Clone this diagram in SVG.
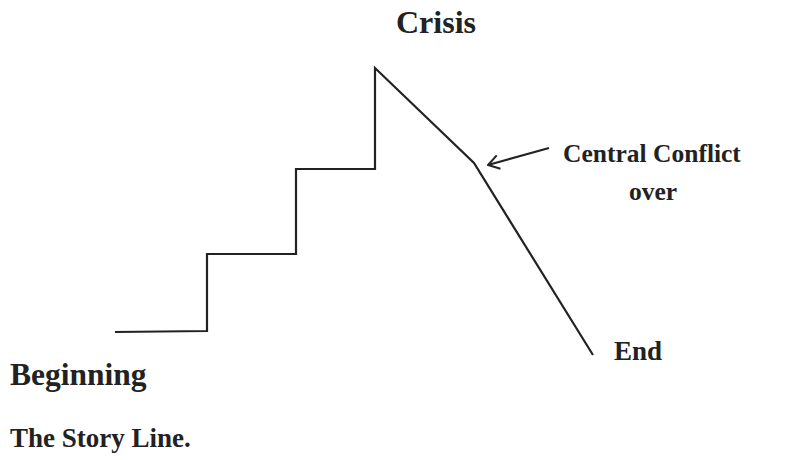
<svg xmlns="http://www.w3.org/2000/svg" width="785" height="460" viewBox="0 0 785 460">
<style>
.t{font-family:"Liberation Serif","Times New Roman",serif;font-weight:bold;fill:#222}
.ln{fill:none;stroke:#222;stroke-width:2.2;stroke-linejoin:miter}
</style>
<defs>
<marker id="ah" viewBox="0 0 14 16" refX="13" refY="8" markerWidth="14" markerHeight="16" markerUnits="userSpaceOnUse" orient="auto">
<path d="M2,1 L13,8 L2,15" fill="none" stroke="#222" stroke-width="2"/>
</marker>
</defs>
<g id="connectors">
<path id="storyline" class="ln" d="M115,332 L207,331 L207,254 L296,254 L296,169 L375,169 L375,68 L474,163 L593,355"/>
<path id="arrow" class="ln" d="M549,148 L488,165" marker-end="url(#ah)"/>
</g>
<g id="crisis"><text class="t" x="436" y="33" text-anchor="middle" font-size="32">Crisis</text></g>
<g id="central"><text class="t" x="652" y="162" text-anchor="middle" font-size="25.5">Central Conflict</text><text class="t" x="653" y="200" text-anchor="middle" font-size="25.5">over</text></g>
<g id="beginning"><text class="t" x="10" y="385" font-size="31.5">Beginning</text></g>
<g id="end"><text class="t" x="614" y="360" font-size="27">End</text></g>
<g id="caption"><text class="t" x="10" y="447" font-size="27">The Story Line.</text></g>
</svg>
